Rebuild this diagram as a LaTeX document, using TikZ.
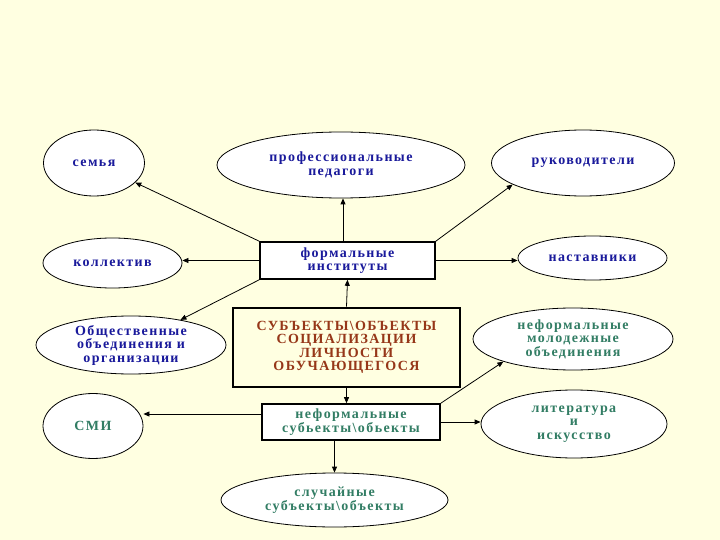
\documentclass[tikz,border=0pt]{standalone}
\usepackage{fontspec}
\setmainfont{Liberation Serif}[LetterSpace=10, BoldFont={Liberation Serif Bold}]
\usepackage{tikz}
\usetikzlibrary{arrows.meta,shapes.geometric}
\definecolor{bgyellow}{RGB}{255,255,225}
\definecolor{txtblue}{RGB}{25,25,155}
\definecolor{txtgreen}{RGB}{50,125,100}
\definecolor{txtbrown}{RGB}{150,55,25}
\tikzstyle{oval} = [ellipse, draw=black, line width=0.8pt, fill=white, inner sep=0pt, align=center, font=\fontsize{14}{13.5}\selectfont\bfseries]
\tikzstyle{frame} = [rectangle, draw=black, line width=1.6pt, fill=white, inner sep=0pt, align=center, font=\fontsize{14}{13.5}\selectfont\bfseries]
\tikzstyle{arr} = [line width=0.8pt, -{Triangle[length=6pt,width=5pt]}]

\begin{document}
\begin{tikzpicture}[x=1pt,y=-1pt]
            \fill [bgyellow] (0,0) rectangle (720,540);
            % top row
            \node [oval, text=txtblue, minimum width=101pt, minimum height=66pt] (semya) at (94,163) {семья};
            \node [oval, text=txtblue, minimum width=248pt, minimum height=66pt] (pedagogi) at (341,165) {профессиональные\\педагоги};
            \node [oval, text=txtblue, minimum width=183pt, minimum height=66pt] (rukovod) at (583,163) {руководители};
            % formal
            \node [frame, text=txtblue, minimum width=175pt, minimum height=37pt] (formal) at (347.5,260.5) {формальные\\институты};
            \node [oval, text=txtblue, minimum width=139pt, minimum height=50pt] (kollektiv) at (112.5,263) {коллектив};
            \node [oval, text=txtblue, minimum width=149pt, minimum height=44pt] (nastavn) at (592.5,258) {наставники};
            \node [oval, text=txtblue, minimum width=190pt, minimum height=58pt] (obsch) at (131,345) {Общественные\\объединения и\\организации};
            % center
            \node [frame, text=txtbrown, fill=bgyellow, line width=2.6pt, minimum width=227pt, minimum height=79pt] (central) at (346.5,347.5) {СУБЪЕКТЫ\textbackslash ОБЪЕКТЫ\\СОЦИАЛИЗАЦИИ\\ЛИЧНОСТИ\\ОБУЧАЮЩЕГОСЯ};
            \node [oval, text=txtgreen, minimum width=200pt, minimum height=62pt] (molod) at (573,339) {неформальные\\молодежные\\объединения};
            % informal
            \node [frame, text=txtgreen, minimum width=178pt, minimum height=36pt] (neform) at (351,422) {неформальные\\субьекты\textbackslash обьекты};
            \node [oval, text=txtgreen, minimum width=100pt, minimum height=65pt] (smi) at (93,426) {СМИ};
            \node [oval, text=txtgreen, minimum width=186pt, minimum height=68pt] (lit) at (574,424) {литература\\и\\искусство};
            \node [oval, text=txtgreen, minimum width=227pt, minimum height=54pt] (sluch) at (334.5,500) {случайные\\субъекты\textbackslash объекты};
            % arrows
            \draw [arr] (central.north) -- (formal.south);
            \draw [arr] (formal.north west) -- (semya);
            \draw [arr] (formal.north -| 343,0) -- (pedagogi.south -| 343,0);
            \draw [arr] (formal.north east) -- (rukovod.197);
            \draw [arr] (formal.west) -- (formal.west -| kollektiv.east);
            \draw [arr] (formal.east) -- (formal.east -| nastavn.west);
            \draw [arr] (formal.south west) -- (obsch);
            \draw [arr] (central.south) -- (central.south |- neform.north);
            \draw [arr] ([yshift=8pt]neform.west) -- ([yshift=8pt]neform.west -| smi.east);
            \draw [arr] (neform.east) -- (neform.east -| lit.west);
            \draw [arr] (neform.north east) -- (molod.198);
            \draw [arr] (neform.south -| sluch.north) -- (sluch.north);
\end{tikzpicture}
\end{document}
